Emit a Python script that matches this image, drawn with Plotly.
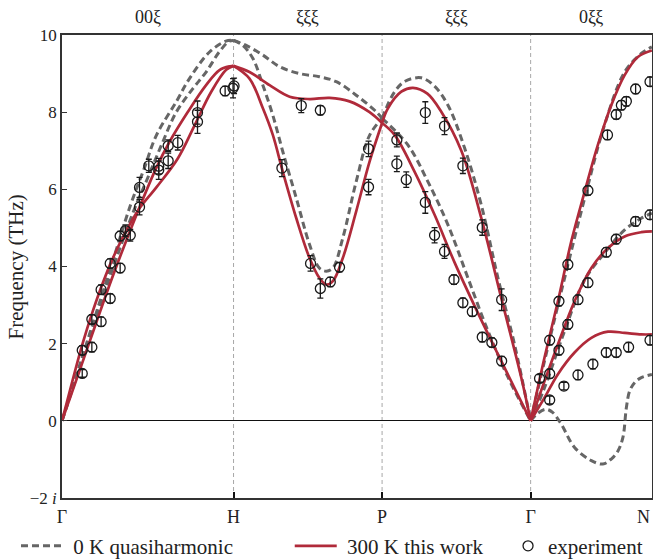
import plotly.graph_objects as go

# ---------------- axes / labels ----------------
sym_labels = ["Γ", "H", "P", "Γ", "N"]
sym_pos = [0.0, 1.0, 1.866, 2.732, 3.439]
dir_labels = ["00ξ", "ξξξ", "ξξξ", "0ξξ"]
ytick_vals = [-2, 0, 2, 4, 6, 8, 10]
ytick_text = ["−2 <i>i</i>", "0", "2", "4", "6", "8", "10"]

# ---------------- 0 K quasiharmonic (dashed) ----------------
qh_GH1_q = [0, 0.1, 0.2, 0.3, 0.4, 0.48, 0.55, 0.666, 0.743, 0.86, 0.955, 1.0]
qh_GH1_f = [0, 1.4, 2.8, 4.2, 5.6, 6.55, 7.4, 8.27, 8.87, 9.56, 9.84, 9.86]
qh_GH2_q = [0, 0.1, 0.2, 0.3, 0.417, 0.5, 0.58, 0.666, 0.763, 0.84, 0.918, 0.975, 1.0]
qh_GH2_f = [0, 1.35, 2.7, 4.0, 5.43, 6.3, 7.15, 8.0, 8.61, 9.04, 9.57, 9.84, 9.86]

qh_HP1_q = [1.0, 1.074, 1.171, 1.268, 1.385, 1.5, 1.599, 1.715, 1.832, 1.866]
qh_HP1_f = [9.86, 9.73, 9.48, 9.18, 9.0, 8.92, 8.79, 8.44, 8.01, 7.84]
qh_HP2_q = [1.0, 1.054, 1.113, 1.171, 1.229, 1.287, 1.366, 1.443, 1.5, 1.54, 1.579, 1.637, 1.715, 1.793, 1.866]
qh_HP2_f = [9.86, 9.73, 9.39, 8.70, 7.92, 6.98, 5.77, 4.57, 3.96, 3.88, 3.96, 4.74, 6.20, 7.40, 7.84]

qh_PG1_q = [1.866, 1.939, 2.0, 2.094, 2.17, 2.25, 2.347, 2.444, 2.541, 2.638, 2.732]
qh_PG1_f = [7.84, 8.53, 8.8, 8.89, 8.68, 8.18, 7.07, 5.60, 3.71, 1.98, 0]
qh_PG2_q = [1.866, 2.016, 2.133, 2.25, 2.366, 2.483, 2.6, 2.732]
qh_PG2_f = [7.84, 7.15, 6.20, 5.08, 3.71, 2.33, 1.13, 0]

qh_GN1_q = [2.732, 2.813, 2.93, 3.047, 3.163, 3.28, 3.377, 3.439]
qh_GN1_f = [0, 1.55, 3.70, 5.77, 7.67, 9.04, 9.52, 9.69]
qh_GN2_q = [2.732, 2.813, 2.93, 3.047, 3.163, 3.28, 3.377, 3.439]
qh_GN2_f = [0, 0.86, 2.33, 3.65, 4.35, 4.95, 5.25, 5.38]
qh_GN3_q = [2.732, 2.775, 2.82, 2.86, 2.911, 2.988, 3.086, 3.153, 3.202, 3.241, 3.27, 3.29, 3.309, 3.338, 3.377, 3.439]
qh_GN3_f = [0, 0.2, 0.3, 0.22, -0.09, -0.69, -1.03, -1.12, -0.99, -0.78, -0.43, 0.34, 0.77, 0.99, 1.12, 1.2]

# ---------------- 300 K this work (red) ----------------
tw_GH1_q = [0, 0.06, 0.12, 0.18, 0.24, 0.30, 0.36, 0.446, 0.55, 0.675, 0.773, 0.87, 0.957, 1.0]
tw_GH1_f = [0, 1.02, 2.0, 2.85, 3.6, 4.25, 4.8, 5.47, 6.05, 6.8, 7.66, 8.53, 9.1, 9.2]
tw_GH2_q = [0, 0.1, 0.2, 0.3, 0.446, 0.549, 0.628, 0.734, 0.84, 0.918, 0.98, 1.0]
tw_GH2_f = [0, 1.27, 2.55, 3.8, 5.47, 6.55, 7.24, 8.01, 8.7, 9.09, 9.19, 9.2]

tw_HP1_q = [1.0, 1.093, 1.21, 1.327, 1.443, 1.56, 1.676, 1.793, 1.866]
tw_HP1_f = [9.2, 9.04, 8.70, 8.40, 8.34, 8.37, 8.28, 8.0, 7.72]
tw_HP2_q = [1.0, 1.093, 1.171, 1.229, 1.287, 1.366, 1.443, 1.501, 1.54, 1.579, 1.637, 1.715, 1.793, 1.866]
tw_HP2_f = [9.2, 8.87, 8.10, 7.41, 6.46, 5.25, 4.22, 3.70, 3.53, 3.62, 4.22, 5.43, 6.72, 7.72]

tw_PG1_q = [1.866, 1.9, 1.978, 2.046, 2.13, 2.211, 2.328, 2.444, 2.561, 2.678, 2.732]
tw_PG1_f = [7.72, 8.1, 8.53, 8.63, 8.48, 8.01, 7.0, 5.26, 3.18, 1.11, 0]
tw_PG2_q = [1.866, 1.939, 2.055, 2.172, 2.289, 2.405, 2.522, 2.638, 2.732]
tw_PG2_f = [7.72, 7.41, 6.46, 5.34, 4.1, 2.98, 1.9, 0.85, 0]

tw_GN1_q = [2.732, 2.813, 2.891, 2.969, 3.047, 3.124, 3.202, 3.28, 3.357, 3.439]
tw_GN1_f = [0, 1.64, 3.10, 4.65, 5.94, 7.15, 8.18, 8.96, 9.43, 9.6]
tw_GN2_q = [2.732, 2.813, 2.891, 2.988, 3.086, 3.183, 3.28, 3.377, 3.439]
tw_GN2_f = [0, 1.03, 1.98, 3.10, 3.96, 4.48, 4.78, 4.89, 4.91]
tw_GN3_q = [2.732, 2.813, 2.891, 2.988, 3.086, 3.183, 3.28, 3.377, 3.439]
tw_GN3_f = [0, 0.6, 1.21, 1.77, 2.15, 2.31, 2.28, 2.24, 2.24]

# ---------------- experiment ----------------
exp_q = [0.118, 0.118, 0.174, 0.174, 0.228, 0.228, 0.281, 0.281, 0.339, 0.339,
         0.37, 0.398, 0.452, 0.452, 0.506, 0.564, 0.564, 0.619, 0.619, 0.675,
         0.79, 0.79, 0.951, 0.997, 1.003,
         1.282, 1.395, 1.506, 1.449, 1.506, 1.564, 1.618, 1.787, 1.787,
         1.952, 1.952, 2.007, 2.118, 2.23, 2.118, 2.172, 2.23, 2.285, 2.337,
         2.337, 2.392, 2.45, 2.45, 2.506, 2.563, 2.563,
         2.843, 2.784, 2.843, 2.843, 2.897, 2.897, 2.926, 2.949, 2.949, 3.008,
         3.008, 3.066, 3.066, 3.095, 3.173, 3.173, 3.18, 3.231, 3.231, 3.231,
         3.261, 3.29, 3.303, 3.344, 3.344, 3.428, 3.428, 3.428]
exp_f = [1.23, 1.83, 1.91, 2.63, 2.57, 3.40, 3.17, 4.08, 3.96, 4.79,
         4.93, 4.81, 5.54, 6.05, 6.61, 6.50, 6.60, 6.74, 7.13, 7.21,
         7.99, 7.75, 8.55, 8.62, 8.68,
         6.55, 8.17, 8.05, 4.08, 3.43, 3.60, 3.98, 6.06, 7.05,
         7.28, 6.66, 6.25, 7.99, 7.64, 5.66, 4.81, 4.39, 3.66, 6.61,
         3.06, 2.83, 5.01, 2.17, 2.03, 3.14, 1.55,
         0.54, 1.10, 1.22, 2.09, 1.83, 3.10, 0.90, 2.50, 4.05, 1.19,
         3.14, 3.58, 5.97, 1.47, 1.77, 4.37, 7.41, 1.77, 4.71, 7.94,
         8.18, 8.28, 1.91, 8.60, 5.17, 8.79, 5.34, 2.09]
exp_err = [0.1, 0.12, 0.12, 0.12, 0.12, 0.12, 0.12, 0.12, 0.12, 0.12,
           0.15, 0.15, 0.2, 0.26, 0.17, 0.24, 0.2, 0.2, 0.15, 0.19,
           0.3, 0.3, 0.12, 0.25, 0.2,
           0.22, 0.18, 0.12, 0.2, 0.25, 0.12, 0.12, 0.2, 0.2,
           0.18, 0.2, 0.2, 0.28, 0.22, 0.28, 0.2, 0.18, 0.12, 0.2,
           0.12, 0.12, 0.2, 0.12, 0.12, 0.28, 0.12,
           0.1, 0.1, 0.12, 0.12, 0.12, 0.12, 0.1, 0.12, 0.12, 0.12,
           0.12, 0.12, 0.12, 0.12, 0.12, 0.12, 0.12, 0.12, 0.12, 0.12,
           0.12, 0.12, 0.12, 0.12, 0.12, 0.12, 0.12, 0.12]

GRAY = "#666666"
RED = "#B02A3A"
FONT = "Liberation Serif"

dashed = [(qh_GH1_q, qh_GH1_f), (qh_GH2_q, qh_GH2_f), (qh_HP1_q, qh_HP1_f), (qh_HP2_q, qh_HP2_f),
          (qh_PG1_q, qh_PG1_f), (qh_PG2_q, qh_PG2_f), (qh_GN1_q, qh_GN1_f), (qh_GN2_q, qh_GN2_f),
          (qh_GN3_q, qh_GN3_f)]
solid = [(tw_GH1_q, tw_GH1_f), (tw_GH2_q, tw_GH2_f), (tw_HP1_q, tw_HP1_f), (tw_HP2_q, tw_HP2_f),
         (tw_PG1_q, tw_PG1_f), (tw_PG2_q, tw_PG2_f), (tw_GN1_q, tw_GN1_f), (tw_GN2_q, tw_GN2_f),
         (tw_GN3_q, tw_GN3_f)]

fig = go.Figure()
for i, (q, f) in enumerate(dashed):
    fig.add_trace(go.Scatter(x=q, y=f, mode="lines", name="\u00a00 K quasiharmonic",
                             line=dict(color=GRAY, width=3, dash="7px,4px", shape="spline", smoothing=1.0),
                             legend="legend", showlegend=(i == 0), hoverinfo="skip"))
for i, (q, f) in enumerate(solid):
    fig.add_trace(go.Scatter(x=q, y=f, mode="lines", name="\u00a0300 K this work",
                             line=dict(color=RED, width=2.7, shape="spline", smoothing=1.0),
                             legend="legend2", showlegend=(i == 0), hoverinfo="skip"))
fig.add_trace(go.Scatter(x=exp_q, y=exp_f, mode="markers", name="experiment",
                         marker=dict(symbol="circle-open", size=10, color="#1a1a1a", line=dict(width=1.3)),
                         error_y=dict(type="data", array=exp_err, visible=True, color="#1a1a1a",
                                      thickness=1.3, width=3),
                         legend="legend3", showlegend=True))

for xv in sym_pos[1:4]:
    fig.add_vline(x=xv, line=dict(color="#a8a8a8", width=1, dash="4px,3px"), layer="below")

for i, lab in enumerate(dir_labels):
    fig.add_annotation(x=(sym_pos[i] + sym_pos[i + 1]) / 2, y=1, xref="x", yref="paper",
                       yanchor="middle", yshift=18, text=lab, showarrow=False,
                       font=dict(family=FONT, size=18, color="#222"))

# last symmetry label (N) sits at the right edge: anchor it inside the page
fig.add_annotation(x=sym_pos[-1], y=0, xref="x", yref="paper", xanchor="right",
                   yanchor="middle", yshift=-19, text=sym_labels[-1], showarrow=False,
                   font=dict(family=FONT, size=18, color="#222"))

fig.add_annotation(x=-0.078, y=0.5, xref="paper", yref="paper", text="Frequency (THz)",
                   textangle=-90, showarrow=False, xanchor="center", yanchor="middle",
                   font=dict(family=FONT, size=21, color="#222"))

leg_common = dict(orientation="h", yanchor="middle", y=-0.104, xanchor="left",
                  font=dict(family=FONT, size=21, color="#222"), bgcolor="rgba(0,0,0,0)",
                  borderwidth=0)
fig.update_layout(
    width=653, height=560,
    margin=dict(l=62, r=1, t=35, b=62, autoexpand=False),
    paper_bgcolor="white", plot_bgcolor="white",
    font=dict(family=FONT, color="#222"),
    legend=dict(x=-0.078, itemwidth=42, **leg_common),
    legend2=dict(x=0.386, itemwidth=42, **leg_common),
    legend3=dict(x=0.756, itemwidth=30, **leg_common),
    xaxis=dict(range=[sym_pos[0], sym_pos[-1] + 0.0005], tickvals=sym_pos,
               ticktext=sym_labels[:-1] + [""],
               ticks="inside", ticklen=6, tickwidth=2, tickcolor="#111", automargin=False,
               ticklabelstandoff=2,
               showline=True, mirror=True, linecolor="#333", linewidth=1.5,
               showgrid=False, zeroline=False, tickfont=dict(family=FONT, size=18, color="#222")),
    yaxis=dict(range=[-2, 10], tickvals=ytick_vals, ticktext=ytick_text, automargin=False,
               ticks="inside", ticklen=5, tickwidth=1, tickcolor="#333",
               showline=True, mirror=True, linecolor="#333", linewidth=1.5,
               showgrid=False, zeroline=True, zerolinecolor="#111", zerolinewidth=1,
               tickfont=dict(family=FONT, size=17, color="#222")),
)

fig.write_html("out.html", config={"displayModeBar": False},
               post_script="document.body.style.margin='0';document.body.style.overflow='hidden';")
